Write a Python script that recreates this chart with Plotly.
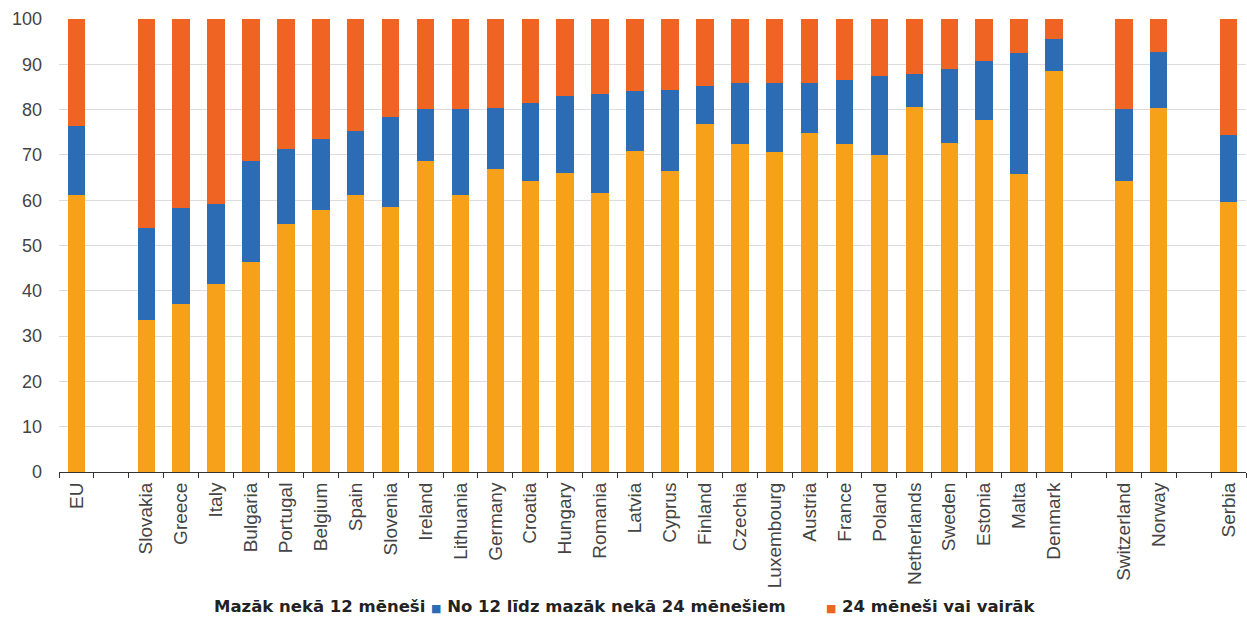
import plotly.graph_objects as go

categories = ["EU", " ", "Slovakia", "Greece", "Italy", "Bulgaria", "Portugal", "Belgium", "Spain",
              "Slovenia", "Ireland", "Lithuania", "Germany", "Croatia", "Hungary", "Romania", "Latvia",
              "Cyprus", "Finland", "Czechia", "Luxembourg", "Austria", "France", "Poland", "Netherlands",
              "Sweden", "Estonia", "Malta", "Denmark", "  ", "Switzerland", "Norway", "   ", "Serbia"]

less_12 = [61.1, None, 33.5, 37.0, 41.5, 46.3, 54.7, 57.8, 61.1,
           58.4, 68.7, 61.1, 66.8, 64.2, 65.9, 61.7, 70.9,
           66.5, 76.8, 72.4, 70.7, 74.9, 72.4, 70.0, 80.5,
           72.6, 77.6, 65.8, 88.6, None, 64.3, 80.3, None, 59.7]

m12_24 = [15.3, None, 20.4, 21.3, 17.7, 22.4, 16.7, 15.7, 14.1,
          20.0, 11.4, 19.0, 13.5, 17.3, 17.2, 21.7, 13.2,
          17.8, 8.5, 13.4, 15.1, 10.9, 14.1, 17.5, 7.4,
          16.3, 13.2, 26.6, 6.9, None, 15.8, 12.5, None, 14.7]

m24_plus = [23.6, None, 46.1, 41.7, 40.8, 31.3, 28.6, 26.5, 24.8,
            21.6, 19.9, 19.9, 19.7, 18.5, 16.9, 16.6, 15.9,
            15.7, 14.7, 14.2, 14.2, 14.2, 13.5, 12.5, 12.1,
            11.1, 9.2, 7.6, 4.5, None, 19.9, 7.2, None, 25.6]

series_names = ["Mazāk nekā 12 mēneši", "No 12 līdz mazāk nekā 24 mēnešiem", "24 mēneši vai vairāk"]
colors = ["#F7A11A", "#2B6CB5", "#F06423"]

fig = go.Figure()
for name, vals, col in zip(series_names, [less_12, m12_24, m24_plus], colors):
    fig.add_trace(go.Bar(x=categories, y=vals, name=name, marker=dict(color=col, line=dict(width=0)),
                         width=0.5, showlegend=False))

fig.update_layout(
    barmode="stack",
    width=1247, height=617,
    margin=dict(l=59, r=1, t=19, b=145),
    plot_bgcolor="white", paper_bgcolor="white",
    font=dict(family="Liberation Sans, Arial, sans-serif", color="#444444"),
)
fig.update_xaxes(
    type="category", categoryorder="array", categoryarray=categories,
    tickangle=-90, tickfont=dict(size=19, color="#444444"),
    showline=True, linecolor="#333333", linewidth=1,
    ticks="outside", tickson="boundaries", ticklen=5, tickcolor="#333333",
    showgrid=False, range=[-0.5, 33.5], automargin=False, ticklabelstandoff=2,
)
fig.update_yaxes(
    range=[0, 100], dtick=10, tickfont=dict(size=18, color="#444444"),
    showgrid=True, gridcolor="#DDDDDD", gridwidth=1, zeroline=False,
    ticklabelstandoff=16, showline=False, automargin=False,
)

sq = "<span style='font-size:11px;color:{}'>■</span>"
legend_text = ("<b>Mazāk nekā 12 mēneši " + sq.format("#2B6CB5") + " "
               "No 12 līdz mazāk nekā 24 mēnešiem       "
               + sq.format("#F06423") + " 24 mēneši vai vairāk</b>")
fig.add_annotation(text=legend_text, xref="paper", yref="paper", x=0.4766, y=-0.296,
                   xanchor="center", yanchor="middle", showarrow=False,
                   font=dict(size=16.5, color="#222222", family="DejaVu Sans, sans-serif"))

fig.write_html("out.html",
               config={"displayModeBar": False},
               post_script="document.body.style.margin='0';document.body.style.overflow='hidden';")
